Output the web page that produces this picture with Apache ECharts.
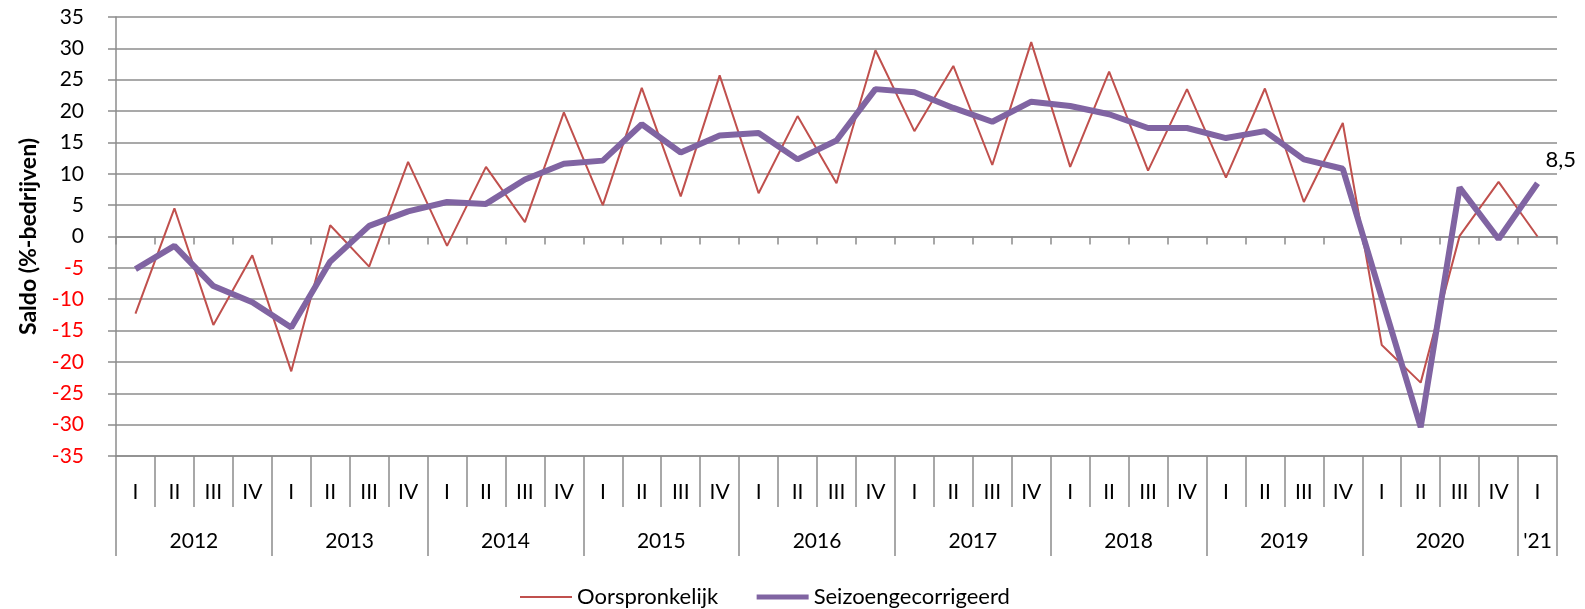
<!DOCTYPE html>
<html>
<head>
<meta charset="utf-8">
<script src="https://cdn.jsdelivr.net/npm/echarts@6/dist/echarts.min.js"></script>
<style>
  html, body { margin: 0; padding: 0; background: #fff; }
  #main { width: 1585px; height: 609px; }
</style>
</head>
<body>
<div id="main"></div>
<script>
  // kwartalen 2012 I t/m 2021 I
  const quarters = ['I', 'II', 'III', 'IV', 'I', 'II', 'III', 'IV', 'I', 'II', 'III', 'IV',
    'I', 'II', 'III', 'IV', 'I', 'II', 'III', 'IV', 'I', 'II', 'III', 'IV',
    'I', 'II', 'III', 'IV', 'I', 'II', 'III', 'IV', 'I', 'II', 'III', 'IV', 'I']
  const yearLabels = ['2012', '2013', '2014', '2015', '2016', '2017', '2018', '2019', '2020', "'21"]
  const yearSpans = [4, 4, 4, 4, 4, 4, 4, 4, 4, 1]
  const original = [-12.3, 4.5, -14.1, -3.0, -21.5, 1.8, -4.8, 11.9, -1.5, 11.1, 2.3, 19.8,
    5.0, 23.7, 6.4, 25.7, 6.9, 19.2, 8.5, 29.7, 16.8, 27.2, 11.4, 31.0,
    11.1, 26.3, 10.5, 23.5, 9.4, 23.6, 5.5, 18.1, -17.3, -23.3, 0.1, 8.7, 0.0]
  const seasonal = [-5.2, -1.5, -7.9, -10.5, -14.5, -4.0, 1.7, 4.0, 5.5, 5.2, 9.1, 11.6,
    12.1, 17.9, 13.4, 16.1, 16.5, 12.3, 15.3, 23.5, 23.0, 20.5, 18.3, 21.5,
    20.8, 19.5, 17.3, 17.3, 15.7, 16.8, 12.3, 10.8, -9.8, -30.4, 7.8, -0.4, 8.5]
  const yMin = -35
  const yMax = 35
  const yStep = 5

  const font = 'Lato'
  const gridColor = '#8c8c8c'

  // jaar-as: halve kwartaalpunten, zodat jaarlabels midden in hun blok staan
  let yearAxisData = new Array(quarters.length * 2 + 1).fill('')
  let yearBounds = [0]
  let pos = 0
  yearSpans.forEach(function (span, i) {
    yearAxisData[pos * 2 + span] = yearLabels[i]
    pos += span
    yearBounds.push(pos * 2)
  })

  const chart = echarts.init(document.getElementById('main'))
  chart.setOption({
    animation: false,
    grid: { left: 116, right: 28, top: 17, bottom: 153 },
    legend: {
      data: [
        { name: 'Oorspronkelijk', lineStyle: { width: 2 } },
        { name: 'Seizoengecorrigeerd', lineStyle: { width: 5 } }
      ],
      left: 514,
      top: 581,
      itemWidth: 52,
      itemHeight: 2,
      itemGap: 36,
      itemStyle: { opacity: 0 },
      textStyle: { fontFamily: font, fontSize: 22, color: '#000' }
    },
    xAxis: [
      {
        type: 'category',
        data: quarters,
        axisLine: { onZero: true, lineStyle: { color: gridColor, width: 1.5 } },
        axisTick: { show: true, length: 8, lineStyle: { color: gridColor, width: 1.5 } },
        axisLabel: { show: false },
        splitLine: { show: false }
      },
      {
        type: 'category',
        data: quarters,
        position: 'bottom',
        axisLine: { onZero: false, lineStyle: { color: gridColor, width: 1.5 } },
        axisTick: { show: true, length: 51, lineStyle: { color: gridColor, width: 1.5 } },
        axisLabel: { interval: 0, margin: 26, fontFamily: font, fontSize: 21, color: '#000' }
      },
      {
        type: 'category',
        data: yearAxisData,
        boundaryGap: false,
        position: 'bottom',
        axisLine: { onZero: false, show: false },
        axisTick: {
          show: true,
          length: 100,
          interval: function (idx) { return yearBounds.indexOf(idx) !== -1 },
          lineStyle: { color: gridColor, width: 1.5 }
        },
        axisLabel: { interval: 0, margin: 75, fontFamily: font, fontSize: 21, color: '#000' }
      }
    ],
    yAxis: {
      type: 'value',
      min: yMin,
      max: yMax,
      interval: yStep,
      name: 'Saldo (%-bedrijven)',
      nameLocation: 'middle',
      nameGap: 76,
      nameTextStyle: { fontFamily: font, fontSize: 23, fontWeight: 'bold', color: '#000' },
      axisLine: { show: true, lineStyle: { color: gridColor, width: 1.5 } },
      axisTick: { show: true, length: 8, lineStyle: { color: gridColor, width: 1.5 } },
      axisLabel: {
        margin: 32,
        fontFamily: font,
        fontSize: 21,
        color: function (value) { return Number(value) < 0 ? '#ff0000' : '#000' }
      },
      splitLine: { lineStyle: { color: gridColor, width: 1.5 } }
    },
    series: [
      {
        name: 'Oorspronkelijk',
        type: 'line',
        data: original,
        symbol: 'none',
        color: '#c0504d',
        lineStyle: { color: '#c0504d', width: 2 },
        z: 2
      },
      {
        name: 'Seizoengecorrigeerd',
        type: 'line',
        data: seasonal,
        symbol: 'none',
        color: '#8064a2',
        lineStyle: { color: '#8064a2', width: 6 },
        endLabel: {
          show: true,
          distance: 8,
          offset: [0, -23],
          fontFamily: font,
          fontSize: 22,
          color: '#000',
          formatter: function (p) { return String(p.value).replace('.', ',') }
        },
        z: 3
      }
    ]
  })
</script>
</body>
</html>
